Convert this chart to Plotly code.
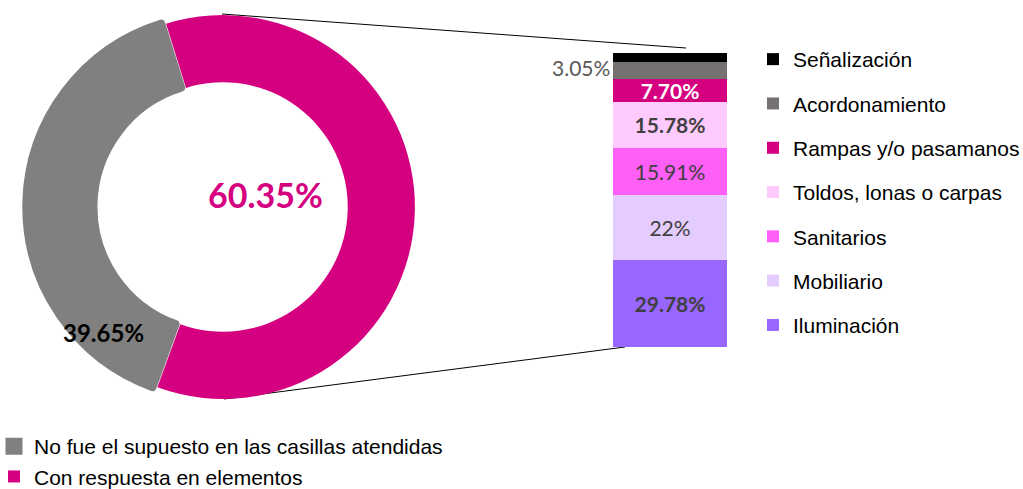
import plotly.graph_objects as go

W, H = 1023, 489

# ---- data ----
pie_labels = ["No fue el supuesto en las casillas atendidas", "Con respuesta en elementos"]
pie_values = [39.65, 60.35]
pie_colors = ["#808080", "#D5007F"]

bar_categories = ["Iluminación", "Mobiliario", "Sanitarios", "Toldos, lonas o carpas",
                  "Rampas y/o pasamanos", "Acordonamiento", "Señalización"]
bar_values = [29.78, 22, 15.91, 15.78, 7.70, 5.78, 3.05]
bar_text = ["29.78%", "22%", "15.91%", "15.78%", "7.70%", "", ""]
bar_colors = ["#9966FF", "#E5CCFF", "#FF5EF7", "#FFCBFF", "#D5007F", "#767171", "#000000"]
bar_text_bold = [True, False, False, True, True, False, False]
bar_text_colors = ["#404040", "#404040", "#404040", "#404040", "#FFFFFF", "#404040", "#404040"]
side_label = "3.05%"


def px(x):
    return x / W


def py(y):
    return 1 - y / H


fig = go.Figure()

# ---- donut ----
fig.add_trace(go.Pie(
    labels=pie_labels, values=pie_values, sort=False, direction="clockwise",
    rotation=200, hole=0.65, pull=[0.025, 0],
    marker=dict(colors=pie_colors, line=dict(color=pie_colors, width=[8, 0])),
    textinfo="none", hoverinfo="label+percent",
    domain=dict(x=[px(26.3), px(419.7)], y=[py(403.7), py(10.3)]),
    legend="legend2",
))

# ---- stacked bar ----
n = len(bar_categories)
for i, (cat, val, txt, col, bold, tcol) in enumerate(zip(bar_categories, bar_values, bar_text,
                                                         bar_colors, bar_text_bold, bar_text_colors)):
    fig.add_trace(go.Bar(
        x=[0], y=[val], name=cat, marker=dict(color=col, line=dict(width=0)),
        width=1, text=[txt], textposition="inside", insidetextanchor="middle",
        textangle=0, constraintext="none",
        textfont=dict(family="Lato", size=21, color=tcol,
                      weight="bold" if bold else "normal"),
        legendgroup=cat, legendrank=n - i, legend="legend",
    ))

# label beside the bar
fig.add_annotation(
    x=-0.5, y=sum(bar_values) - bar_values[-1] - bar_values[-2] / 2,
    xref="x", yref="y", text=side_label, showarrow=False,
    xanchor="right", yanchor="middle", yshift=3, xshift=-1,
    font=dict(family="Lato", size=21, color="#595959"),
)

# donut labels
fig.add_annotation(
    x=px(265), y=py(194), xref="paper", yref="paper",
    xanchor="center", yanchor="middle",
    text=f"<b>{pie_values[1]:.2f}%</b>", showarrow=False,
    font=dict(family="Lato", size=34, color="#D5007F"),
)
fig.add_annotation(
    x=px(103), y=py(332), xref="paper", yref="paper",
    xanchor="center", yanchor="middle",
    text=f"<b>{pie_values[0]:.2f}%</b>", showarrow=False,
    font=dict(family="Lato", size=24, color="#000000"),
)

# series lines
fig.add_shape(type="line", xref="paper", yref="paper",
              x0=px(222), y0=py(14), x1=px(686), y1=py(48),
              line=dict(color="#000000", width=1), layer="below")
fig.add_shape(type="line", xref="paper", yref="paper",
              x0=px(224), y0=py(399), x1=px(625), y1=py(347),
              line=dict(color="#000000", width=1), layer="below")

fig.update_layout(
    width=W, height=H, autosize=False,
    margin=dict(l=0, r=0, t=0, b=0, autoexpand=False),
    paper_bgcolor="white", plot_bgcolor="rgba(0,0,0,0)",
    barmode="stack", bargap=0,
    xaxis=dict(domain=[px(613), px(727)], range=[-0.5, 0.5], visible=False, fixedrange=True),
    yaxis=dict(domain=[py(347), py(52.7)], range=[0, 100], visible=False, fixedrange=True),
    showlegend=True,
    legend=dict(x=px(753), y=py(39), xanchor="left", yanchor="top",
                traceorder="grouped", tracegroupgap=14,
                font=dict(family="Liberation Sans", size=21, color="#000000"),
                bgcolor="rgba(0,0,0,0)", itemclick=False, itemdoubleclick=False),
    legend2=dict(x=px(-6), y=py(426), xanchor="left", yanchor="top",
                 traceorder="normal",
                 font=dict(family="Liberation Sans", size=21, color="#000000"),
                 bgcolor="rgba(0,0,0,0)", itemclick=False, itemdoubleclick=False),
)

fig.write_html(
    "out.html",
    config={"displayModeBar": False},
    post_script="document.body.style.margin='0';document.body.style.overflow='hidden';",
)
